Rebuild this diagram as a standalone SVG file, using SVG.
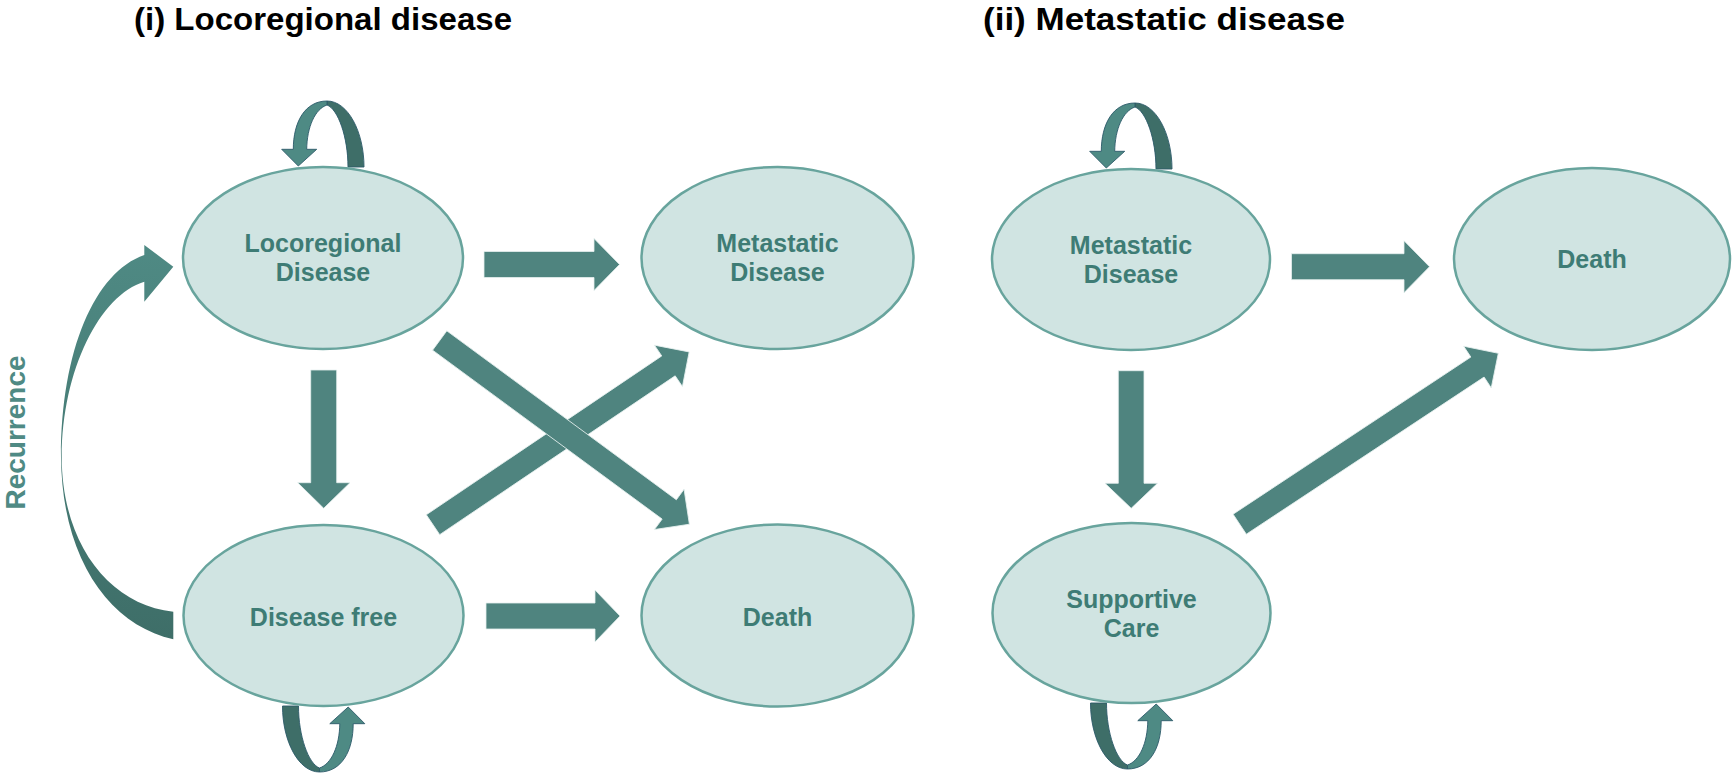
<svg xmlns="http://www.w3.org/2000/svg" xmlns:xlink="http://www.w3.org/1999/xlink" width="1734" height="776" viewBox="0 0 1734 776">
<style>
.node ellipse{fill:#d0e4e2;stroke:#68a49d;stroke-width:2.5}
.node text{font-family:"Liberation Sans",Arial,sans-serif;font-weight:bold;font-size:25px;fill:#3e7c75;text-anchor:middle}
.title{font-family:"Liberation Sans",Arial,sans-serif;font-weight:bold;font-size:31px;fill:#000}
.arr{fill:#4f847f;stroke:#e6f0ef;stroke-width:0.8}
.ldark{fill:#3e6e68;stroke:#2d5a6a;stroke-width:0.9}
.llight{fill:#4e8a84;stroke:#2d5a6a;stroke-width:0.9}
</style>
<defs>
<g id="loop">
<path class="ldark" d="M4,-66 C25,-66 41,-35 41,0 L25,0 C25,-30 15,-58 4,-62 Z"/>
<path class="llight" d="M-29.7,-17.7 L-41.3,-17.7 L-24.7,-1 L-6.3,-17.7 L-16.3,-17.7 C-16,-40 -8,-58 4,-62 L4,-66 C-18,-66 -29.7,-45 -29.7,-17.7 Z"/>
</g>
<linearGradient id="recg" x1="0" y1="0" x2="0" y2="1">
<stop offset="0" stop-color="#4f8a84"/>
<stop offset="1" stop-color="#3e6e68"/>
</linearGradient>
</defs>
<rect width="1734" height="776" fill="#fff"/>
<text class="title" x="134" y="30" textLength="378" lengthAdjust="spacingAndGlyphs">(i) Locoregional disease</text>
<text class="title" x="983" y="30" textLength="362" lengthAdjust="spacingAndGlyphs">(ii) Metastatic disease</text>
<text x="25" y="432.5" transform="rotate(-90 25 432.5)" text-anchor="middle" font-family="Liberation Sans, Arial, sans-serif" font-weight="bold" font-size="28" fill="#4f8a84">Recurrence</text>
<g id="connectors">
<path fill="url(#recg)" d="M173.3,639.3 C110,625 62,560 61,457 C61,350 95,272 144.3,255 L144.3,245 L173.3,266.7 L144.3,301.7 L144.3,281.7 C100,295 62,370 61.7,457 C62,545 110,605 173.3,611.7 Z"/>
<polygon class="arr" points="484,251.5 594,251.5 594,238.5 619.5,264.5 594,290.5 594,277.5 484,277.5"/>
<polygon class="arr" points="486,603 595,603 595,590 620,616 595,642 595,629 486,629"/>
<polygon class="arr" points="1291.5,253.7 1404,253.7 1404,240.7 1429.5,266.7 1404,292.7 1404,279.7 1291.5,279.7"/>
<polygon class="arr" points="310.7,370 336.7,370 336.7,482.7 350,482.7 323.7,508.3 297.7,482.7 310.7,482.7"/>
<polygon class="arr" points="1118.3,370.7 1144,370.7 1144,483.3 1157.5,483.3 1131.2,508.3 1105,483.3 1118.3,483.3"/>
<path class="arr" transform="translate(433,524.7) rotate(-34)" d="M0,-12 H284 V-25 L309,0 L284,25 V12 H0 Z"/>
<path class="arr" transform="translate(439.7,340.5) rotate(36.35)" d="M0,-12 H285 V-25 L310,0 L285,25 V12 H0 Z"/>
<path class="arr" transform="translate(1239.7,524.2) rotate(-33.46)" d="M0,-12 H285 V-25 L310,0 L285,25 V12 H0 Z"/>
<use xlink:href="#loop" transform="translate(323,167)"/>
<use xlink:href="#loop" transform="translate(1131,169)"/>
<use xlink:href="#loop" transform="translate(323.5,706) rotate(180)"/>
<use xlink:href="#loop" transform="translate(1131.5,703) rotate(180)"/>
</g>
<g id="node-locoregional" class="node"><ellipse cx="323" cy="258" rx="140" ry="91"/><text x="323" y="252">Locoregional</text><text x="323" y="281">Disease</text></g>
<g id="node-metastatic-i" class="node"><ellipse cx="777.5" cy="258" rx="136" ry="91"/><text x="777.5" y="252">Metastatic</text><text x="777.5" y="281">Disease</text></g>
<g id="node-diseasefree" class="node"><ellipse cx="323.5" cy="615.5" rx="140" ry="90.5"/><text x="323.5" y="626">Disease free</text></g>
<g id="node-death-i" class="node"><ellipse cx="777.5" cy="615.5" rx="136" ry="91"/><text x="777.5" y="626">Death</text></g>
<g id="node-metastatic-ii" class="node"><ellipse cx="1131" cy="259.5" rx="139" ry="90.5"/><text x="1131" y="254">Metastatic</text><text x="1131" y="283">Disease</text></g>
<g id="node-death-ii" class="node"><ellipse cx="1592" cy="259" rx="138" ry="91"/><text x="1592" y="268">Death</text></g>
<g id="node-supportive" class="node"><ellipse cx="1131.5" cy="613" rx="139" ry="90"/><text x="1131.5" y="608">Supportive</text><text x="1131.5" y="637">Care</text></g>
</svg>
